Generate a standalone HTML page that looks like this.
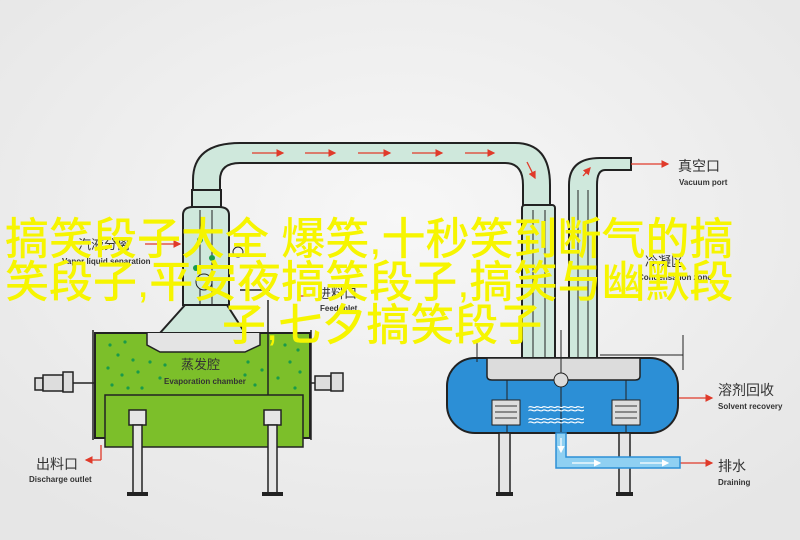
<!DOCTYPE html>
<html><head><meta charset="utf-8"><style>
html,body{margin:0;padding:0;width:800px;height:540px;overflow:hidden;background:#efefef}
svg{display:block}
.cn{font-family:"Liberation Sans","Noto Sans CJK SC",sans-serif;fill:#333}
.en{font-family:"Liberation Sans",sans-serif;font-weight:bold;fill:#333;font-size:8px}
.y{font-family:"Liberation Sans","Noto Sans CJK SC",sans-serif;fill:#f6f500;font-size:44px;font-weight:500}
</style></head><body>
<svg width="800" height="540" viewBox="0 0 800 540" xmlns="http://www.w3.org/2000/svg">
<defs>
<radialGradient id="bg" cx="50%" cy="40%" r="70%"><stop offset="0" stop-color="#f7f7f7"/><stop offset="1" stop-color="#e6e6e6"/></radialGradient>
<marker id="ar" markerWidth="6" markerHeight="6" refX="5" refY="3" orient="auto"><path d="M0,0 L6,3 L0,6z" fill="#e03a2a"/></marker>
<marker id="aw" markerWidth="6" markerHeight="6" refX="5" refY="3" orient="auto"><path d="M0,0 L6,3 L0,6z" fill="#fff"/></marker>
</defs>
<rect width="800" height="540" fill="url(#bg)"/>
<g stroke="#222" stroke-width="2" fill="#cfe8dc">
<path d="M193,192 L193,180 Q193,143 240,143 L515,143 Q550,143 550,185 L550,210 L523,210 L523,185 Q523,163 505,163 L240,163 Q220,163 220,180 L220,192 Z"/>
<path d="M569,362 L569,185 Q569,158 600,158 L631,158 L631,170 L605,170 Q597,170 597,185 L597,362 Z"/>
<rect x="522" y="205" width="33" height="157" rx="3"/>
<rect x="192" y="190" width="29" height="22"/>
<path d="M183,215 Q183,207 193,207 L219,207 Q229,207 229,215 L229,305 L183,305 Z"/>
<path d="M185,305 L160,333 L245,333 L227,305 Z"/>
</g>
<g stroke="#222" stroke-width="1" fill="none">
<line x1="200" y1="210" x2="200" y2="305"/><line x1="212" y1="210" x2="212" y2="305"/>
<line x1="533" y1="210" x2="533" y2="360"/><line x1="545" y1="210" x2="545" y2="360"/>
<line x1="578" y1="190" x2="578" y2="360"/><line x1="588" y1="190" x2="588" y2="360"/>
<circle cx="204" cy="282" r="8" fill="#cfe8dc"/>
<circle cx="238" cy="252" r="5"/>
</g>
<g fill="#1a9a4a"><circle cx="200" cy="240" r="3"/><circle cx="212" cy="258" r="3"/><circle cx="196" cy="268" r="3"/></g>
<g stroke="#e03a2a" stroke-width="1.3" marker-end="url(#ar)">
<line x1="252" y1="153" x2="283" y2="153"/><line x1="305" y1="153" x2="335" y2="153"/><line x1="358" y1="153" x2="390" y2="153"/><line x1="412" y1="153" x2="442" y2="153"/><line x1="465" y1="153" x2="494" y2="153"/>
<line x1="527" y1="162" x2="535" y2="178"/><line x1="583" y1="176" x2="590" y2="168"/>
<line x1="631" y1="164" x2="668" y2="164"/>
<line x1="678" y1="398" x2="712" y2="398"/>
<line x1="680" y1="463" x2="712" y2="463"/>
<line x1="101" y1="445" x2="101" y2="460" marker-end="none"/><line x1="101" y1="460" x2="86" y2="460"/>
<line x1="145" y1="244" x2="180" y2="244"/>
<line x1="310" y1="296" x2="300" y2="296" marker-end="none"/>
</g>
<rect x="95" y="333" width="215" height="105" fill="#7cbf2a" stroke="#222" stroke-width="2"/>
<path d="M147,333 L147,345 L160,352 L245,352 L260,345 L260,333" fill="#e4e4e4" stroke="#222" stroke-width="1.5"/>
<rect x="105" y="395" width="198" height="52" fill="#7cbf2a" stroke="#222" stroke-width="1.5"/>
<g fill="#1a9a4a">
<circle cx="110" cy="345" r="1.6"/><circle cx="125" cy="342" r="1.6"/><circle cx="118" cy="355" r="1.6"/><circle cx="133" cy="360" r="1.6"/><circle cx="108" cy="368" r="1.6"/><circle cx="122" cy="375" r="1.6"/><circle cx="138" cy="372" r="1.6"/><circle cx="112" cy="385" r="1.6"/><circle cx="128" cy="388" r="1.6"/><circle cx="142" cy="388" r="1.6"/><circle cx="150" cy="362" r="1.6"/><circle cx="160" cy="378" r="1.6"/><circle cx="165" cy="365" r="1.6"/>
<circle cx="248" cy="362" r="1.6"/><circle cx="262" cy="370" r="1.6"/><circle cx="285" cy="345" r="1.6"/><circle cx="298" cy="350" r="1.6"/><circle cx="290" cy="362" r="1.6"/><circle cx="278" cy="378" r="1.6"/><circle cx="300" cy="372" r="1.6"/><circle cx="255" cy="385" r="1.6"/><circle cx="245" cy="375" r="1.6"/><circle cx="295" cy="388" r="1.6"/>
</g>
<g stroke="#222" stroke-width="1.5" fill="#e6e6e6">
<rect x="129" y="410" width="17" height="15"/><rect x="133" y="425" width="9" height="68"/>
<rect x="264" y="410" width="17" height="15"/><rect x="268" y="425" width="9" height="68"/>
</g>
<g fill="#222"><rect x="127" y="492" width="21" height="4"/><rect x="262" y="492" width="21" height="4"/></g>
<g stroke="#222" stroke-width="1.5" fill="#ddd">
<rect x="35" y="378" width="8" height="12"/><rect x="43" y="375" width="20" height="16"/><rect x="63" y="372" width="10" height="20"/><line x1="73" y1="383" x2="95" y2="383"/>
<rect x="315" y="376" width="16" height="14"/><rect x="331" y="373" width="12" height="18"/><line x1="310" y1="383" x2="315" y2="383"/>
<line x1="93" y1="330" x2="93" y2="440"/><line x1="311" y1="330" x2="311" y2="440"/>
<line x1="268" y1="300" x2="268" y2="395"/><line x1="240" y1="290" x2="270" y2="290"/>
</g>
<rect x="447" y="358" width="231" height="75" rx="28" fill="#2c8fd6" stroke="#222" stroke-width="2"/>
<path d="M487,358 L487,376 Q487,380 492,380 L635,380 Q640,380 640,376 L640,358 Z" fill="#dcdcdc" stroke="#222" stroke-width="1.5"/>
<g stroke="#222" stroke-width="1" fill="none">
<line x1="507" y1="380" x2="507" y2="433"/><line x1="626" y1="380" x2="626" y2="433"/><line x1="561" y1="330" x2="561" y2="433"/>
<circle cx="561" cy="380" r="7" fill="#dcdcdc"/>
<line x1="477" y1="340" x2="477" y2="362"/>
<line x1="600" y1="355" x2="683" y2="355"/><line x1="683" y1="335" x2="683" y2="370"/>
</g>
<g fill="#ddd" stroke="#222" stroke-width="1">
<rect x="492" y="400" width="28" height="25"/><rect x="612" y="400" width="28" height="25"/>
</g>
<g stroke="#555" stroke-width="1.2"><line x1="495" y1="406" x2="517" y2="406"/><line x1="495" y1="412" x2="517" y2="412"/><line x1="495" y1="418" x2="517" y2="418"/><line x1="615" y1="406" x2="637" y2="406"/><line x1="615" y1="412" x2="637" y2="412"/><line x1="615" y1="418" x2="637" y2="418"/></g>
<text x="528" y="414" font-size="16" fill="#fff" font-family="Liberation Sans,sans-serif" letter-spacing="-2">≈≈≈≈≈≈≈≈</text>
<text x="528" y="426" font-size="16" fill="#fff" font-family="Liberation Sans,sans-serif" letter-spacing="-2">≈≈≈≈≈≈≈≈</text>
<g stroke="#222" stroke-width="1.5" fill="#e6e6e6"><rect x="499" y="433" width="11" height="60"/><rect x="619" y="433" width="11" height="60"/></g>
<g fill="#222"><rect x="496" y="492" width="17" height="4"/><rect x="616" y="492" width="17" height="4"/></g>
<path d="M556,433 L556,468 L680,468 L680,457 L566,457 L566,433 Z" fill="#8fd0f2" stroke="#2c8fd6" stroke-width="1.5"/>
<g stroke="#fff" stroke-width="1.2" marker-end="url(#aw)"><line x1="561" y1="438" x2="561" y2="452"/><line x1="572" y1="463" x2="600" y2="463"/><line x1="640" y1="463" x2="668" y2="463"/></g>
<text class="cn" x="678" y="171" font-size="14">真空口</text><text class="en" x="679" y="185">Vacuum port</text>
<text class="cn" x="718" y="395" font-size="14">溶剂回收</text><text class="en" x="718" y="409">Solvent recovery</text>
<text class="cn" x="718" y="471" font-size="14">排水</text><text class="en" x="718" y="485">Draining</text>
<text class="cn" x="36" y="469" font-size="14">出料口</text><text class="en" x="29" y="482">Discharge outlet</text>
<text class="cn" x="181" y="369" font-size="13">蒸发腔</text><text class="en" x="164" y="384">Evaporation chamber</text>
<text class="cn" x="78" y="249" font-size="13">汽液分离</text><text class="en" x="62" y="264">Vapor liquid separation</text>
<text class="cn" x="318" y="298" font-size="13">进料口</text><text class="en" x="320" y="311">Feed inlet</text>
<text class="cn" x="645" y="266" font-size="13">冷凝区</text><text class="en" x="638" y="280">Condensation zone</text>
<text class="y" x="5" y="254">搞笑段子大全 爆笑,十秒笑到断气的搞</text>
<text class="y" x="5" y="297">笑段子,平安夜搞笑段子,搞笑与幽默段</text>
<text class="y" x="222" y="340" font-size="43">子,七夕搞笑段子</text>
</svg>
</body></html>
